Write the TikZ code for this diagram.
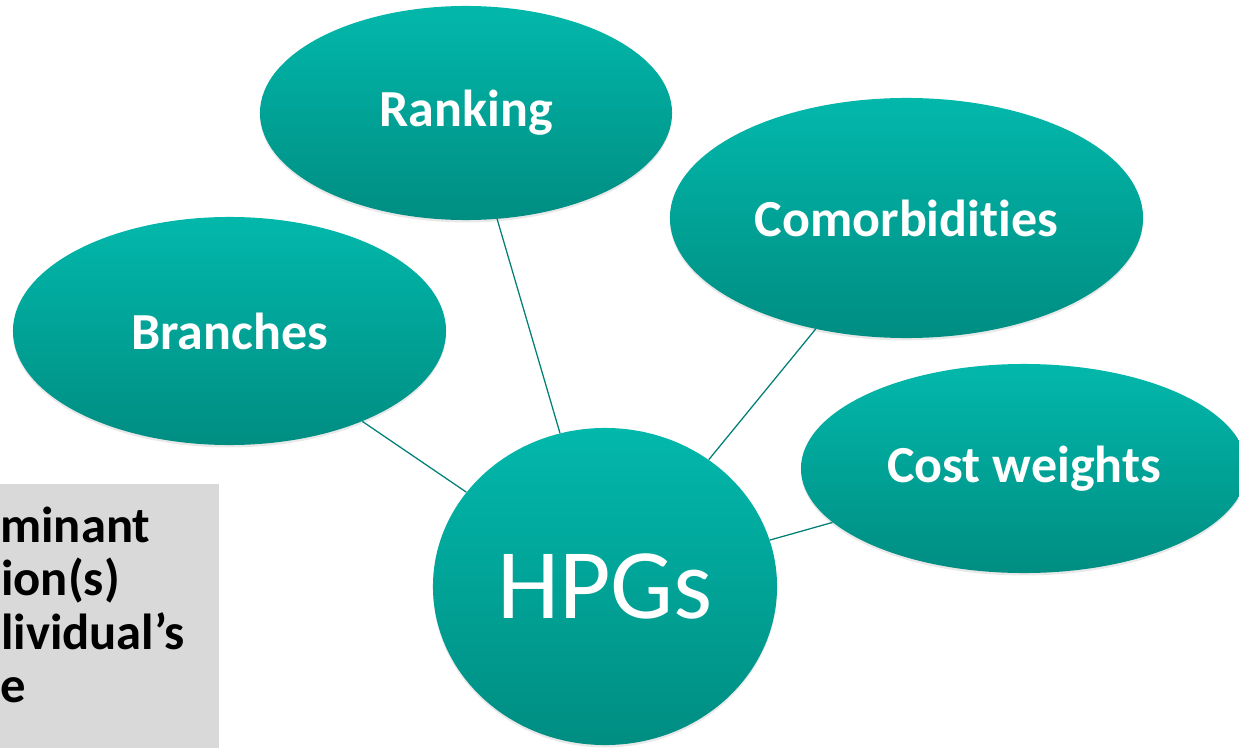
\documentclass[tikz,border=0pt]{standalone}
\usepackage{fontspec}
\setmainfont{Carlito}[Ligatures=NoCommon]
\usetikzlibrary{shapes.geometric,shadows}

\definecolor{tealtop}{RGB}{2,184,171}
\definecolor{tealbot}{RGB}{0,141,130}
\definecolor{spokeline}{RGB}{0,128,118}
\definecolor{boxgrey}{RGB}{217,217,217}

\tikzset{
  bubble/.style={ellipse, inner sep=0pt, top color=tealtop, bottom color=tealbot,
    text=white, font=\fontsize{37}{44}\selectfont\bfseries,
    drop shadow={opacity=0.18, shadow xshift=0pt, shadow yshift=-0.06cm}},
  hub/.style={bubble, font=\fontsize{71}{80}\selectfont},
  spoke/.style={draw=spokeline, line width=0.9pt},
  noteline/.style={anchor=base west, inner sep=0pt, text=black,
    font=\fontsize{36}{38}\selectfont\bfseries}
}

\begin{document}
\begin{tikzpicture}[x=0.025cm, y=-0.025cm]

  % Crop to the slide region.
  \clip (0,0) rectangle (1239,748);

  % Grey text box, cut off at the left edge.
  \fill[boxgrey] (0,484) rectangle (219,760);
  \node[noteline] (note-1) at (0,542) {minant};
  \node[noteline] (note-2) at (1,595.5) {ion(s)};
  \node[noteline] (note-3) at (1,649) {lividual’s};
  \node[noteline] (note-4) at (0,702.5) {e};

  % Place the outer bubbles.
  \node[bubble, minimum width=10.3cm, minimum height=5.35cm] (ranking) at (466,113) {Ranking};
  \node[bubble, minimum width=11.825cm, minimum height=6cm] (comorbid) at (906.5,218) {Comorbidities};
  \node[bubble, minimum width=10.825cm, minimum height=5.7cm] (branches) at (229.5,331) {Branches};
  \node[bubble, minimum width=11.15cm, minimum height=5.225cm] (costw) at (1024,468.5) {Cost weights};

  % Place the hub.
  \node[hub, minimum width=8.6cm, minimum height=7.925cm] (hpg) at (605,586.5) {HPGs};

  % Connect each bubble to the hub.
  \draw[spoke] (branches) -- (hpg);
  \draw[spoke] (ranking) -- (hpg);
  \draw[spoke] (comorbid) -- (hpg);
  \draw[spoke] (costw) -- (hpg);

\end{tikzpicture}
\end{document}
